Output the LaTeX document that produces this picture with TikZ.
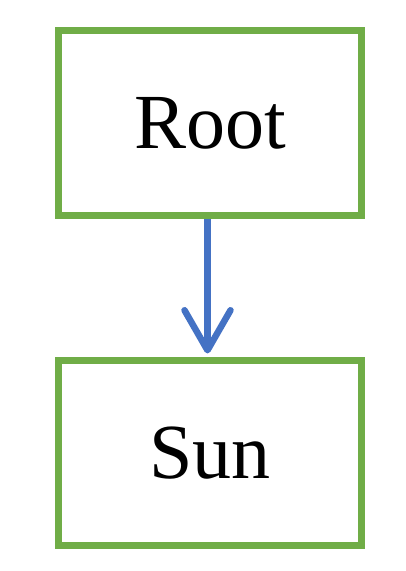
\documentclass[tikz,border=0pt]{standalone}
\usepackage{fontspec}
\setmainfont{Liberation Serif}
\usetikzlibrary{arrows.meta}
\definecolor{boxgreen}{RGB}{112,173,71}
\definecolor{arrowblue}{RGB}{68,114,196}
\begin{document}
\begin{tikzpicture}[x=1pt,y=1pt,
  box/.style={draw=boxgreen,line width=7pt,minimum width=303pt,minimum height=185pt,inner sep=0pt,font=\fontsize{78}{94}\selectfont},
  link/.style={draw=arrowblue,line width=6.5pt,-{Straight Barb[length=40pt,width=46pt,round]}}]
\useasboundingbox (0,0) rectangle (405,571);
\node[box] (root) at (210,448) {Root};
\node[box] (sun) at (210,117.5) {Sun};
\draw[link,shorten >=4pt] ([xshift=-2.5pt]root.south) -- ([xshift=-2.5pt]sun.north);
\end{tikzpicture}
\end{document}
